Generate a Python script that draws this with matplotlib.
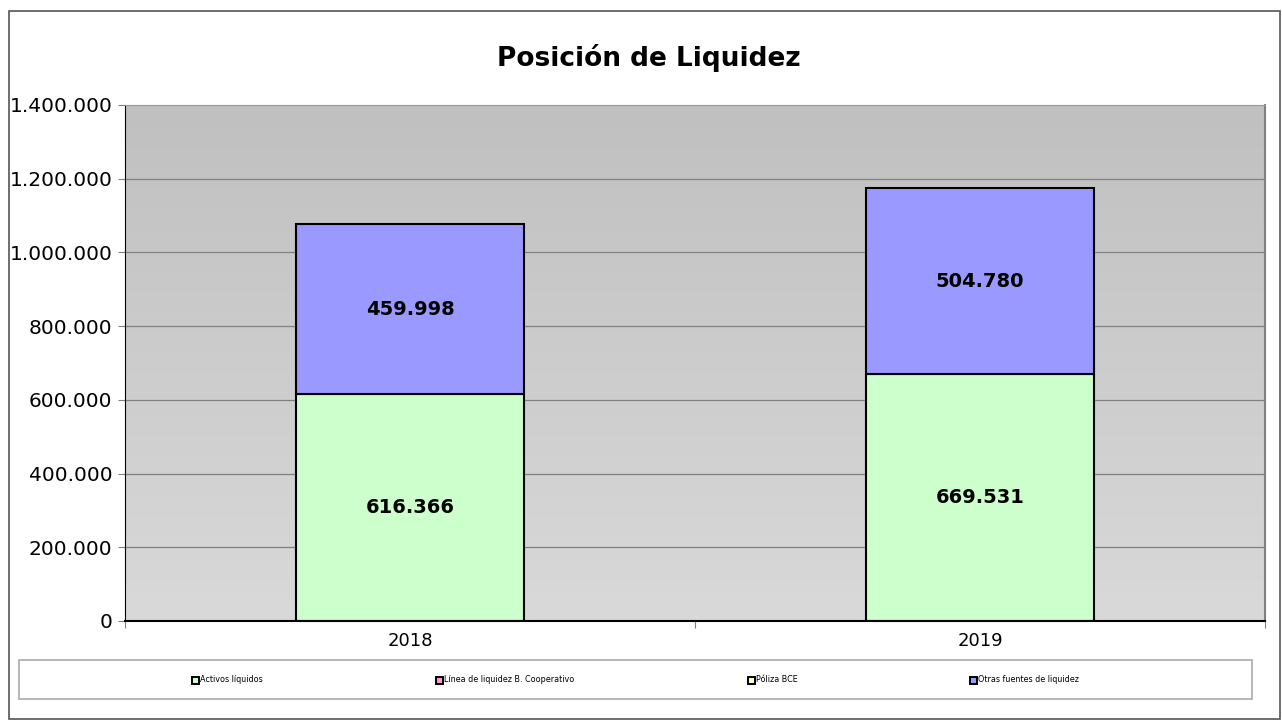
import matplotlib.pyplot as plt
import matplotlib.patches as mpatches
import numpy as np

years = ['2018', '2019']
series = ['Activos líquidos', 'Línea de liquidez B. Cooperativo', 'Póliza BCE', 'Otras fuentes de liquidez']
activos = [616366, 669531]
linea = [0, 0]
poliza = [0, 0]
otras = [459998, 504780]
colors = ['#ccffcc', '#ff99cc', '#ffffcc', '#9999ff']
yticks = [0, 200000, 400000, 600000, 800000, 1000000, 1200000, 1400000]

W, H = 1282, 720
fig = plt.figure(figsize=(W / 100, H / 100), dpi=100)
fig.patch.set_facecolor('white')

# outer chart border
fig.patches.append(mpatches.Rectangle((9 / W, 1 - 719 / H), 1271 / W, 708 / H,
                                      transform=fig.transFigure, fill=False,
                                      edgecolor='#555555', linewidth=1.2))

ax = fig.add_axes([125 / W, 1 - 621 / H, 1140 / W, 516 / H])
x = np.arange(len(years))
ax.set_xlim(-0.5, len(years) - 0.5)
ax.set_ylim(0, 1400000)

# gradient background
grad = np.linspace(0, 1, 256).reshape(-1, 1)
ax.imshow(grad, extent=(-0.5, len(years) - 0.5, 0, 1400000), aspect='auto',
          cmap=plt.matplotlib.colors.LinearSegmentedColormap.from_list('bg', ['#d9d9d9', '#c0c0c0']),
          origin='lower', zorder=0)

for t in yticks[1:-1]:
    ax.axhline(t, color='#808080', linewidth=0.9, zorder=1)

stack = [activos, linea, poliza, otras]
bottom = np.zeros(len(years))
for name, vals, c in zip(series, stack, colors):
    vals = np.array(vals, dtype=float)
    ax.bar(x, vals, width=0.4, bottom=bottom, color=c, edgecolor='black',
           linewidth=1.5 if vals.sum() > 0 else 0, zorder=2)
    for xi, b, v in zip(x, bottom, vals):
        if v > 0:
            ax.text(xi, b + v / 2, f'{int(v):,}'.replace(',', '.'), ha='center', va='center',
                    fontsize=14, fontweight='bold', zorder=3)
    bottom += vals

ax.set_yticks(yticks)
ax.set_yticklabels([f'{t:,}'.replace(',', '.') for t in yticks], fontsize=14.5)
ax.set_xticks([-0.5, 0.5, 1.5])
ax.set_xticklabels([])
ax.set_xticks(x, minor=True)
ax.set_xticklabels(years, minor=True, fontsize=13)
ax.tick_params(axis='x', which='minor', length=0, pad=8)
ax.tick_params(axis='x', which='major', length=5, direction='out', color='#808080')
ax.tick_params(axis='y', length=5, direction='out', color='#808080', pad=4)
ax.spines['left'].set_color('black')
ax.spines['bottom'].set_color('black')
ax.spines['bottom'].set_linewidth(1.5)
ax.spines['top'].set_color('#999999')
ax.spines['right'].set_color('#808080')
ax.spines['right'].set_linewidth(1.5)

fig.text(649 / W, 1 - 58 / H, 'Posición de Liquidez', ha='center', va='center',
         fontsize=19, fontweight='bold')

# legend box
fig.patches.append(mpatches.Rectangle((19 / W, 1 - 699 / H), 1233 / W, 39 / H,
                                      transform=fig.transFigure, facecolor='white',
                                      edgecolor='#aaaaaa', linewidth=1.2))
marker_x = [195, 439, 751, 973]
for mx, name, c in zip(marker_x, series, colors):
    fig.patches.append(mpatches.Rectangle(((mx - 3.5) / W, 1 - 684 / H), 7 / W, 7 / H,
                                          transform=fig.transFigure, facecolor=c,
                                          edgecolor='black', linewidth=1.4))
    fig.text((mx + 5.5) / W, 1 - 680 / H, name, ha='left', va='center', fontsize=5.8)

fig.savefig('out.png', dpi=100)
